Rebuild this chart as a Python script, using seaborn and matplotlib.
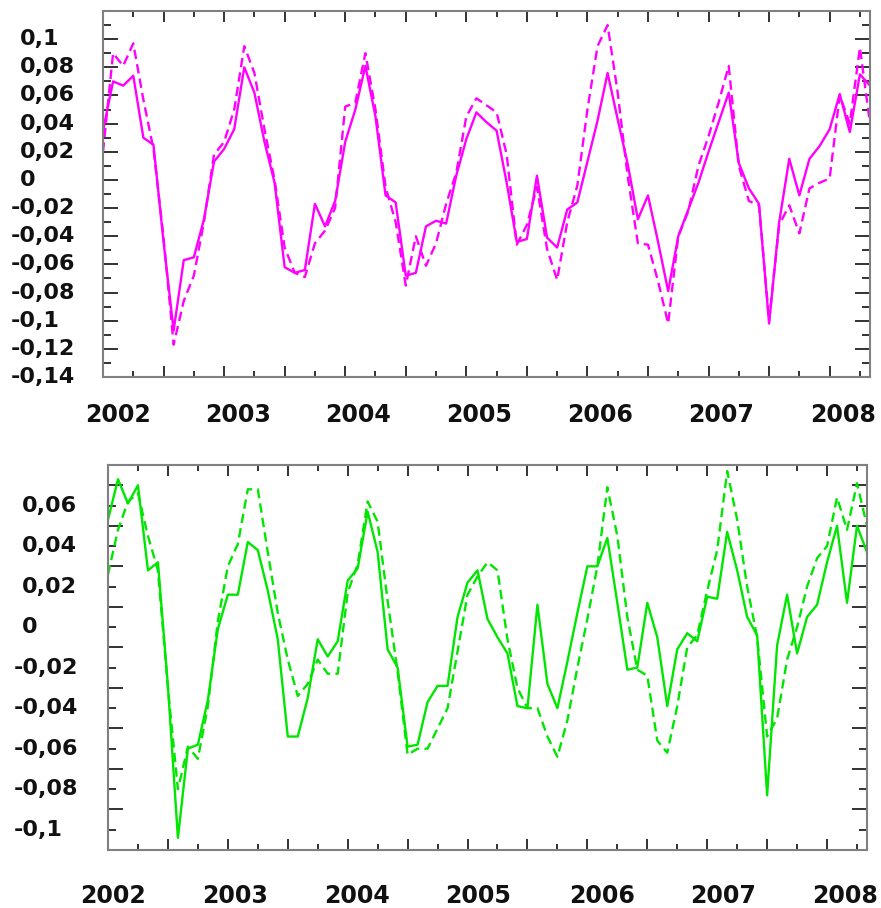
import numpy as np
import pandas as pd
import matplotlib
matplotlib.use("Agg")
import matplotlib.pyplot as plt
import matplotlib.transforms as mtransforms
import seaborn as sns

# ---------------- data ----------------
months = list(range(77))  # monthly from Jan 2002

top_solid = [0.035, 0.070, 0.067, 0.074, 0.030, 0.025, -0.044, -0.107, -0.057, -0.055,
             -0.028, 0.013, 0.022, 0.036, 0.080, 0.062, 0.027, -0.002, -0.062, -0.066,
             -0.064, -0.017, -0.033, -0.015, 0.027, 0.050, 0.081, 0.045, -0.011, -0.016,
             -0.068, -0.066, -0.033, -0.029, -0.031, 0.003, 0.029, 0.048, 0.041, 0.035,
             -0.002, -0.044, -0.042, 0.003, -0.041, -0.048, -0.021, -0.016, 0.013, 0.042,
             0.076, 0.043, 0.011, -0.028, -0.011, -0.044, -0.079, -0.040, -0.021, -0.002,
             0.020, 0.041, 0.062, 0.012, -0.006, -0.017, -0.102, -0.030, 0.015, -0.011,
             0.015, 0.024, 0.036, 0.061, 0.034, 0.075, 0.067]
top_dashed = [0.020, 0.090, 0.081, 0.097, 0.057, 0.022, -0.041, -0.117, -0.086, -0.068,
              -0.030, 0.018, 0.027, 0.050, 0.095, 0.076, 0.036, 0.000, -0.048, -0.066,
              -0.069, -0.045, -0.036, -0.020, 0.052, 0.055, 0.090, 0.050, -0.005, -0.030,
              -0.075, -0.040, -0.061, -0.045, -0.017, 0.005, 0.045, 0.058, 0.053, 0.048,
              0.018, -0.046, -0.032, -0.005, -0.049, -0.071, -0.030, -0.004, 0.050, 0.095,
              0.110, 0.062, 0.002, -0.045, -0.046, -0.072, -0.102, -0.040, -0.022, 0.010,
              0.031, 0.055, 0.081, 0.010, -0.015, -0.018, -0.100, -0.032, -0.018, -0.038,
              -0.006, -0.002, 0.001, 0.060, 0.040, 0.094, 0.040]

bottom_solid = [0.053, 0.073, 0.061, 0.070, 0.028, 0.032, -0.029, -0.104, -0.060, -0.058,
                -0.036, -0.001, 0.016, 0.016, 0.042, 0.038, 0.018, -0.006, -0.054, -0.054,
                -0.035, -0.006, -0.0145, -0.007, 0.023, 0.029, 0.057, 0.037, -0.011, -0.020,
                -0.059, -0.058, -0.037, -0.029, -0.029, 0.005, 0.022, 0.028, 0.004, -0.005,
                -0.013, -0.039, -0.040, 0.011, -0.028, -0.040, -0.017, 0.007, 0.030, 0.030,
                0.044, 0.012, -0.021, -0.020, 0.012, -0.005, -0.039, -0.011, -0.003, -0.007,
                0.015, 0.014, 0.047, 0.028, 0.005, -0.004, -0.083, -0.009, 0.016, -0.013,
                0.005, 0.011, 0.032, 0.050, 0.012, 0.050, 0.037]
bottom_dashed = [0.026, 0.048, 0.062, 0.066, 0.045, 0.028, -0.030, -0.080, -0.059, -0.065,
                 -0.039, 0.003, 0.030, 0.041, 0.068, 0.068, 0.037, 0.007, -0.016, -0.034,
                 -0.028, -0.016, -0.023, -0.023, 0.017, 0.031, 0.062, 0.052, 0.013, -0.022,
                 -0.063, -0.060, -0.060, -0.050, -0.040, -0.012, 0.016, 0.025, 0.032, 0.028,
                 -0.006, -0.030, -0.040, -0.040, -0.054, -0.064, -0.046, -0.020, 0.004, 0.030,
                 0.069, 0.045, 0.005, -0.021, -0.024, -0.056, -0.062, -0.039, -0.010, -0.004,
                 0.018, 0.038, 0.077, 0.053, 0.020, -0.005, -0.054, -0.045, -0.016, 0.000,
                 0.020, 0.034, 0.040, 0.064, 0.048, 0.071, 0.050]

year_labels = ["2002", "2003", "2004", "2005", "2006", "2007", "2008"]

top_ytick_values = [0.1, 0.08, 0.06, 0.04, 0.02, 0.0, -0.02, -0.04, -0.06, -0.08, -0.1, -0.12, -0.14]
top_ytick_labels = ["0,1", "0,08", "0,06", "0,04", "0,02", "0", "-0,02", "-0,04", "-0,06",
                    "-0,08", "-0,1", "-0,12", "-0,14"]
bottom_ytick_values = [0.06, 0.04, 0.02, 0.0, -0.02, -0.04, -0.06, -0.08, -0.1]
bottom_ytick_labels = ["0,06", "0,04", "0,02", "0", "-0,02", "-0,04", "-0,06", "-0,08", "-0,1"]

MAGENTA = "#FF00FF"
GREEN = "#00E600"

# ---------------- figure ----------------
sns.set_theme(style="white")
plt.rcParams["font.family"] = ["DejaVu Sans"]

W, H = 881, 908
fig = plt.figure(figsize=(W / 100, H / 100), dpi=100)

def px_axes(left, top, right, bottom):
    return fig.add_axes([left / W, (H - bottom) / H, (right - left) / W, (bottom - top) / H])

ax1 = px_axes(103, 11, 870, 377)
ax2 = px_axes(108, 465, 867, 850)

def draw_panel(ax, solid, dashed, color, ylim, yvals, ylabels, lab_x_pos, lab_x_neg,
               year_pos, year_y):
    df = pd.DataFrame({"month": months, "solid": solid, "dashed": dashed})
    sns.lineplot(data=df, x="month", y="solid", ax=ax, color=color, lw=1.7,
                 linestyle="-", sort=False)
    sns.lineplot(data=df, x="month", y="dashed", ax=ax, color=color, lw=1.7,
                 linestyle=(0, (4, 2.2)), sort=False)
    ax.set_xlim(0, 76)
    ax.set_ylim(*ylim)
    ax.set_xlabel("")
    ax.set_ylabel("")
    ax.grid(False)
    for sp in ax.spines.values():
        sp.set_visible(True)
        sp.set_color("#808080")
        sp.set_linewidth(1.5)

    ax.set_xticks(np.arange(6, 76, 6))
    ax.set_xticks(np.arange(3, 76, 6), minor=True)
    ymin, ymax = ylim
    ax.set_yticks(np.round(np.arange(ymin, ymax + 1e-9, 0.02), 3))
    ax.set_yticks(np.round(np.arange(ymin + 0.01, ymax, 0.02), 3), minor=True)
    ax.tick_params(axis="x", which="major", direction="in", length=8, width=1.3,
                   color="#222222", top=True, bottom=True, labelbottom=False)
    ax.tick_params(axis="x", which="minor", direction="in", length=4, width=1.3,
                   color="#222222", top=True, bottom=True)
    ax.tick_params(axis="y", which="major", direction="in", length=11, width=1.3,
                   color="#222222", left=True, right=True, labelleft=False)
    ax.tick_params(axis="y", which="minor", direction="in", length=5.5, width=1.3,
                   color="#222222", left=True, right=True)

    # y labels, left aligned like the original
    ytr = mtransforms.blended_transform_factory(fig.transFigure, ax.transData)
    for v, lab in zip(yvals, ylabels):
        xp = lab_x_neg if lab.startswith("-") else lab_x_pos
        fig.text(xp / W, v, lab, transform=ytr, ha="left", va="center",
                 fontsize=16, fontweight="bold", color="#111111")

    # year labels
    xtr = mtransforms.blended_transform_factory(ax.transData, fig.transFigure)
    for xp, lab in zip(year_pos, year_labels):
        ax.text(xp, (H - year_y) / H, lab, transform=xtr, ha="center", va="center",
                fontsize=17, fontweight="bold", color="#111111", clip_on=False)

draw_panel(ax1, top_solid, top_dashed, MAGENTA, (-0.14, 0.12),
           top_ytick_values, top_ytick_labels, 20, 11,
           [1.5, 13.4, 25.3, 37.3, 49.3, 61.2, 73.3], 415)
draw_panel(ax2, bottom_solid, bottom_dashed, GREEN, (-0.11, 0.08),
           bottom_ytick_values, bottom_ytick_labels, 22, 14,
           [0.5, 12.7, 24.9, 37.1, 49.5, 61.6, 73.8], 896)

fig.savefig("out.png", dpi=100, facecolor="white")
